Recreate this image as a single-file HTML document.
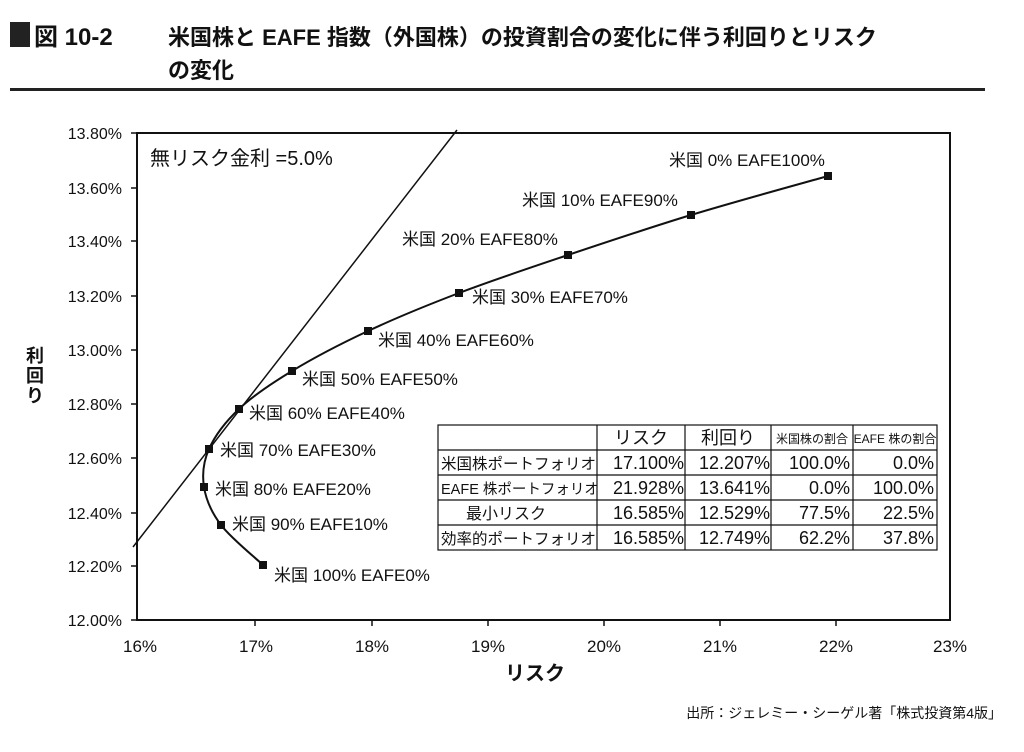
<!DOCTYPE html>
<html><head><meta charset="utf-8"><style>
body{margin:0;background:#fff;}
svg text{font-family:"Liberation Sans","Noto Sans CJK JP",sans-serif;fill:#111;}
</style></head><body>
<svg width="1024" height="747" viewBox="0 0 1024 747" xmlns="http://www.w3.org/2000/svg">
<rect x="10" y="22" width="20" height="25" fill="#222"/>
<text x="34" y="45" font-size="24" font-weight="bold">図 10-2</text>
<text x="168" y="45" font-size="22" font-weight="bold">米国株と EAFE 指数（外国株）の投資割合の変化に伴う利回りとリスク</text>
<text x="168" y="78" font-size="22" font-weight="bold">の変化</text>
<rect x="10" y="88" width="975" height="3" fill="#222"/>
<rect x="137" y="133" width="813" height="487" fill="none" stroke="#111" stroke-width="2"/>
<g font-size="16" text-anchor="end">
<text x="122" y="139">13.80%</text><text x="122" y="194">13.60%</text><text x="122" y="247">13.40%</text><text x="122" y="302">13.20%</text><text x="122" y="356">13.00%</text><text x="122" y="410">12.80%</text><text x="122" y="464">12.60%</text><text x="122" y="519">12.40%</text><text x="122" y="572">12.20%</text><text x="122" y="626">12.00%</text>
</g>
<g stroke="#111" stroke-width="1.5">
<line x1="131" y1="133" x2="137" y2="133"/><line x1="131" y1="188" x2="137" y2="188"/><line x1="131" y1="241" x2="137" y2="241"/><line x1="131" y1="296" x2="137" y2="296"/><line x1="131" y1="350" x2="137" y2="350"/><line x1="131" y1="404" x2="137" y2="404"/><line x1="131" y1="458" x2="137" y2="458"/><line x1="131" y1="513" x2="137" y2="513"/><line x1="131" y1="566" x2="137" y2="566"/><line x1="131" y1="620" x2="137" y2="620"/>
<line x1="255" y1="620" x2="255" y2="626"/><line x1="372" y1="620" x2="372" y2="626"/><line x1="488" y1="620" x2="488" y2="626"/><line x1="604" y1="620" x2="604" y2="626"/><line x1="720" y1="620" x2="720" y2="626"/><line x1="836" y1="620" x2="836" y2="626"/>
</g>
<g font-size="17" text-anchor="middle">
<text x="140" y="652">16%</text><text x="256" y="652">17%</text><text x="372" y="652">18%</text><text x="488" y="652">19%</text><text x="604" y="652">20%</text><text x="720" y="652">21%</text><text x="836" y="652">22%</text><text x="950" y="652">23%</text>
</g>
<text x="535" y="680" font-size="20" font-weight="bold" text-anchor="middle">リスク</text>
<g font-size="18" font-weight="bold" text-anchor="middle"><text x="35" y="362">利</text><text x="35" y="382">回</text><text x="35" y="402">り</text></g>
<text x="150" y="165" font-size="20">無リスク金利 =5.0%</text>
<line x1="133" y1="547" x2="457" y2="130" stroke="#111" stroke-width="1.5"/>
<path fill="none" stroke="#111" stroke-width="2" d="M828,176 C805,182.5 734.3,201.8 691,215 C647.7,228.2 606.7,242 568,255 C529.3,268 492.3,280.3 459,293 C425.7,305.7 395.8,318 368,331 C340.2,344 313.5,358 292,371 C270.5,384 252.8,396 239,409 C225.2,422 214.8,436 209,449 C203.2,462 202,474.3 204,487 C206,499.7 211.2,512 221,525 C230.8,538 256,558.3 263,565"/>
<g fill="#111">
<rect x="824" y="172" width="8" height="8"/><rect x="687" y="211" width="8" height="8"/><rect x="564" y="251" width="8" height="8"/><rect x="455" y="289" width="8" height="8"/><rect x="364" y="327" width="8" height="8"/><rect x="288" y="367" width="8" height="8"/><rect x="235" y="405" width="8" height="8"/><rect x="205" y="445" width="8" height="8"/><rect x="200" y="483" width="8" height="8"/><rect x="217" y="521" width="8" height="8"/><rect x="259" y="561" width="8" height="8"/>
</g>
<g font-size="17">
<text x="669" y="166">米国 0% EAFE100%</text>
<text x="522" y="206">米国 10% EAFE90%</text>
<text x="402" y="245">米国 20% EAFE80%</text>
<text x="472" y="303">米国 30% EAFE70%</text>
<text x="378" y="346">米国 40% EAFE60%</text>
<text x="302" y="385">米国 50% EAFE50%</text>
<text x="249" y="419">米国 60% EAFE40%</text>
<text x="220" y="456">米国 70% EAFE30%</text>
<text x="215" y="495">米国 80% EAFE20%</text>
<text x="232" y="530">米国 90% EAFE10%</text>
<text x="274" y="581">米国 100% EAFE0%</text>
</g>
<g stroke="#111" stroke-width="1.2" fill="none">
<rect x="438" y="425" width="499" height="125" fill="#fff"/>
<line x1="438" y1="450" x2="937" y2="450"/><line x1="438" y1="475" x2="937" y2="475"/><line x1="438" y1="500" x2="937" y2="500"/><line x1="438" y1="525" x2="937" y2="525"/>
<line x1="597" y1="425" x2="597" y2="550"/><line x1="685" y1="425" x2="685" y2="550"/><line x1="771" y1="425" x2="771" y2="550"/><line x1="853" y1="425" x2="853" y2="550"/>
</g>
<g font-size="18">
<text x="641" y="444" text-anchor="middle">リスク</text><text x="728" y="444" text-anchor="middle">利回り</text>
<text x="812" y="443" font-size="12" text-anchor="middle">米国株の割合</text><text x="895" y="443" font-size="12" text-anchor="middle">EAFE 株の割合</text>
<text x="441" y="469" font-size="15.5">米国株ポートフォリオ</text>
<text x="441" y="494" font-size="14.5">EAFE 株ポートフォリオ</text>
<text x="466" y="519" font-size="16">最小リスク</text>
<text x="441" y="544" font-size="15.5">効率的ポートフォリオ</text>
<g text-anchor="end">
<text x="684" y="469">17.100%</text><text x="770" y="469">12.207%</text><text x="850" y="469">100.0%</text><text x="934" y="469">0.0%</text>
<text x="684" y="494">21.928%</text><text x="770" y="494">13.641%</text><text x="850" y="494">0.0%</text><text x="934" y="494">100.0%</text>
<text x="684" y="519">16.585%</text><text x="770" y="519">12.529%</text><text x="850" y="519">77.5%</text><text x="934" y="519">22.5%</text>
<text x="684" y="544">16.585%</text><text x="770" y="544">12.749%</text><text x="850" y="544">62.2%</text><text x="934" y="544">37.8%</text>
</g>
</g>
<text x="1002" y="718" font-size="14" text-anchor="end">出所：ジェレミー・シーゲル著「株式投資第4版」</text>
</svg>
</body></html>
